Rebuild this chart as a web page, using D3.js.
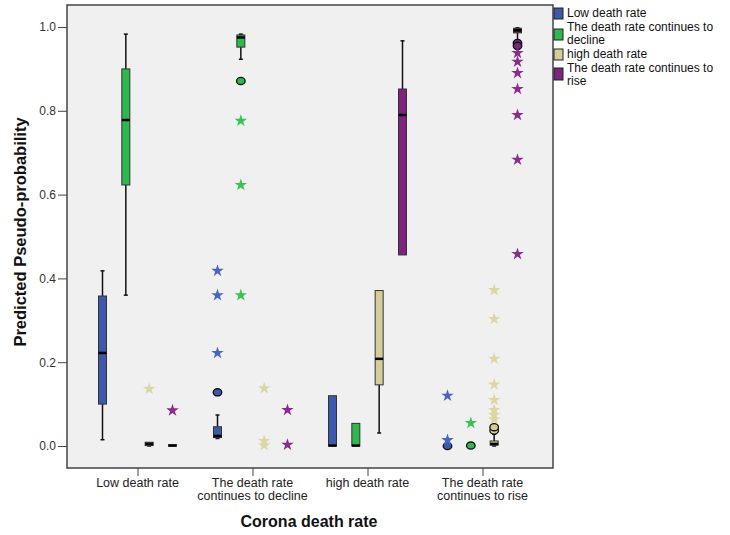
<!DOCTYPE html>
<html>
<head>
<meta charset="utf-8">
<script src="https://cdn.jsdelivr.net/npm/d3@7"></script>
<style>
  body { margin: 0; background: #fff; }
  text { font-family: "Liberation Sans", Arial, sans-serif; }
</style>
</head>
<body>
<div id="chart"></div>
<script>
const categories = [
    ["Low death rate"],
    ["The death rate", "continues to decline"],
    ["high death rate"],
    ["The death rate", "continues to rise"]
];
const seriesNames = [
    ["Low death rate"],
    ["The death rate continues to", "decline"],
    ["high death rate"],
    ["The death rate continues to", "rise"]
];
const yTicks = [0, 0.2, 0.4, 0.6, 0.8, 1.0];

// box stats per category: [lowWhisker, q1, median, q3, highWhisker]
const lowBoxes = [
    [0.015, 0.10, 0.222, 0.358, 0.418],
    [0.018, 0.020, 0.024, 0.046, 0.074],
    [0.0, 0.0, 0.001, 0.12, 0.12],
    null
];
const declineBoxes = [
    [0.36, 0.623, 0.778, 0.90, 0.983],
    [0.923, 0.952, 0.975, 0.981, 0.983],
    [0.0, 0.0, 0.001, 0.054, 0.054],
    null
];
const highBoxes = [
    [0.0, 0.001, 0.005, 0.009, 0.009],
    null,
    [0.031, 0.146, 0.208, 0.371, 0.371],
    [0.0, 0.002, 0.005, 0.012, 0.028]
];
const riseBoxes = [
    [0.0, 0.0, 0.001, 0.003, 0.003],
    null,
    [0.456, 0.456, 0.79, 0.852, 0.967],
    [0.969, 0.986, 0.992, 0.997, 0.998]
];

// outliers: [categoryIndex, value, kind] kind "o" = circle, "*" = extreme
const lowOutliers = [
    [1, 0.128, "o"], [1, 0.222, "*"], [1, 0.36, "*"], [1, 0.418, "*"],
    [3, 0.0, "o"], [3, 0.014, "*"], [3, 0.12, "*"]
];
const declineOutliers = [
    [1, 0.871, "o"], [1, 0.776, "*"], [1, 0.623, "*"], [1, 0.36, "*"],
    [3, 0.001, "o"], [3, 0.055, "*"]
];
const highOutliers = [
    [0, 0.136, "*"],
    [1, 0.138, "*"], [1, 0.012, "*"], [1, 0.002, "*"],
    [3, 0.037, "o"], [3, 0.045, "o"], [3, 0.064, "*"], [3, 0.074, "*"], [3, 0.086, "*"],
    [3, 0.11, "*"], [3, 0.147, "*"], [3, 0.208, "*"], [3, 0.303, "*"], [3, 0.372, "*"]
];
const riseOutliers = [
    [0, 0.085, "*"],
    [1, 0.086, "*"], [1, 0.003, "*"],
    [3, 0.962, "o"], [3, 0.955, "o"], [3, 0.938, "*"], [3, 0.917, "*"], [3, 0.89, "*"],
    [3, 0.852, "*"], [3, 0.79, "*"], [3, 0.683, "*"], [3, 0.458, "*"]
];

const fillColors = ["#3e58ac", "#2eb84e", "#d3ce97", "#7c247e"];
const starColors = ["#4665c4", "#38c452", "#dcd6a4", "#8a2c8c"];

const allBoxes = [lowBoxes, declineBoxes, highBoxes, riseBoxes];
const allOutliers = [lowOutliers, declineOutliers, highOutliers, riseOutliers];

const frame = {left: 67, right: 553, top: 5, bottom: 468};
const width = 730, height = 535;

const svg = d3.select("#chart").append("svg")
    .attr("width", width)
    .attr("height", height);

const x = d3.scalePoint()
    .domain(d3.range(categories.length))
    .range([frame.left, frame.right])
    .padding(0.613);

const inner = d3.scalePoint()
    .domain(d3.range(seriesNames.length))
    .range([-35, 35]);

const y = d3.scaleLinear().domain([0, 1]).range([446, 27]);

svg.append("rect")
    .attr("x", frame.left)
    .attr("y", frame.top)
    .attr("width", frame.right - frame.left)
    .attr("height", frame.bottom - frame.top)
    .attr("fill", "#f0f0f0");

// y axis
const yAxis = svg.append("g")
    .attr("transform", `translate(${frame.left},0)`)
    .call(d3.axisLeft(y).tickValues(yTicks).tickFormat(d3.format(".1f")).tickSize(9).tickPadding(2));
yAxis.select(".domain").remove();
yAxis.selectAll("line").attr("stroke", "#444");
yAxis.selectAll("text")
    .attr("font-size", 12)
    .attr("fill", "#333")
    .style("font-family", "Liberation Sans, Arial, sans-serif");

// x axis ticks
const xAxis = svg.append("g")
    .attr("transform", `translate(0,${frame.bottom})`)
    .call(d3.axisBottom(x).tickSize(8).tickFormat(""));
xAxis.select(".domain").remove();
xAxis.selectAll("line").attr("stroke", "#444");

categories.forEach((lines, i) => {
    const t = svg.append("text")
        .attr("x", x(i))
        .attr("y", 487)
        .attr("text-anchor", "middle")
        .attr("font-size", 12.5)
        .attr("fill", "#222");
    lines.forEach((l, j) => {
        t.append("tspan").attr("x", x(i)).attr("dy", j === 0 ? 0 : 13).text(l);
    });
});

// frame border
svg.append("rect")
    .attr("x", frame.left)
    .attr("y", frame.top)
    .attr("width", frame.right - frame.left)
    .attr("height", frame.bottom - frame.top)
    .attr("fill", "none")
    .attr("stroke", "#444")
    .attr("stroke-width", 1.5);

const plot = svg.append("g");
const boxW = 8;

allBoxes.forEach((boxes, s) => {
    boxes.forEach((b, c) => {
        if (!b) return;
        const cx = x(c) + inner(s);
        const [lo, q1, med, q3, hi] = b;
        const g = plot.append("g");
        g.append("line")
            .attr("x1", cx).attr("x2", cx)
            .attr("y1", y(hi)).attr("y2", y(q3))
            .attr("stroke", "#111").attr("stroke-width", 1.5);
        g.append("line")
            .attr("x1", cx).attr("x2", cx)
            .attr("y1", y(q1)).attr("y2", y(lo))
            .attr("stroke", "#111").attr("stroke-width", 1.5);
        if (hi > q3) {
            g.append("line")
                .attr("x1", cx - 2).attr("x2", cx + 2)
                .attr("y1", y(hi)).attr("y2", y(hi))
                .attr("stroke", "#111").attr("stroke-width", 1.5);
        }
        if (lo < q1) {
            g.append("line")
                .attr("x1", cx - 2).attr("x2", cx + 2)
                .attr("y1", y(lo)).attr("y2", y(lo))
                .attr("stroke", "#111").attr("stroke-width", 1.5);
        }
        g.append("rect")
            .attr("x", cx - boxW / 2)
            .attr("y", y(q3))
            .attr("width", boxW)
            .attr("height", Math.max(y(q1) - y(q3), 1))
            .attr("fill", fillColors[s])
            .attr("stroke", "#333")
            .attr("stroke-width", 1);
        g.append("line")
            .attr("x1", cx - boxW / 2).attr("x2", cx + boxW / 2)
            .attr("y1", y(med)).attr("y2", y(med))
            .attr("stroke", "#000").attr("stroke-width", 2.5);
    });
});

const star = d3.symbol().type(d3.symbolStar).size(48);

allOutliers.forEach((pts, s) => {
    pts.forEach(([c, v, kind]) => {
        const cx = x(c) + inner(s);
        if (kind === "o") {
            plot.append("ellipse")
                .attr("cx", cx).attr("cy", y(v))
                .attr("rx", 4.3).attr("ry", 3.6)
                .attr("fill", fillColors[s])
                .attr("stroke", "#111")
                .attr("stroke-width", 1.3);
        } else {
            plot.append("path")
                .attr("d", star)
                .attr("transform", `translate(${cx},${y(v)})`)
                .attr("fill", starColors[s]);
        }
    });
});

// legend
const legendRows = [
    {top: 8, h: 11, lines: [17]},
    {top: 29, h: 11, lines: [31, 44]},
    {top: 49, h: 11, lines: [58]},
    {top: 68, h: 12, lines: [72, 85]}
];
seriesNames.forEach((lines, i) => {
    const r = legendRows[i];
    svg.append("rect")
        .attr("x", 554).attr("y", r.top)
        .attr("width", 9).attr("height", r.h)
        .attr("fill", fillColors[i])
        .attr("stroke", "#222").attr("stroke-width", 1);
    lines.forEach((l, j) => {
        svg.append("text")
            .attr("x", 567).attr("y", r.lines[j])
            .attr("font-size", 12)
            .attr("fill", "#111")
            .text(l);
    });
});

// axis titles
svg.append("text")
    .attr("x", 309).attr("y", 527)
    .attr("text-anchor", "middle")
    .attr("font-size", 16)
    .attr("font-weight", "bold")
    .attr("fill", "#111")
    .text("Corona death rate");

svg.append("text")
    .attr("transform", "translate(26,232) rotate(-90)")
    .attr("text-anchor", "middle")
    .attr("font-size", 16.5)
    .attr("font-weight", "bold")
    .attr("fill", "#111")
    .text("Predicted Pseudo-probability");
</script>
</body>
</html>
